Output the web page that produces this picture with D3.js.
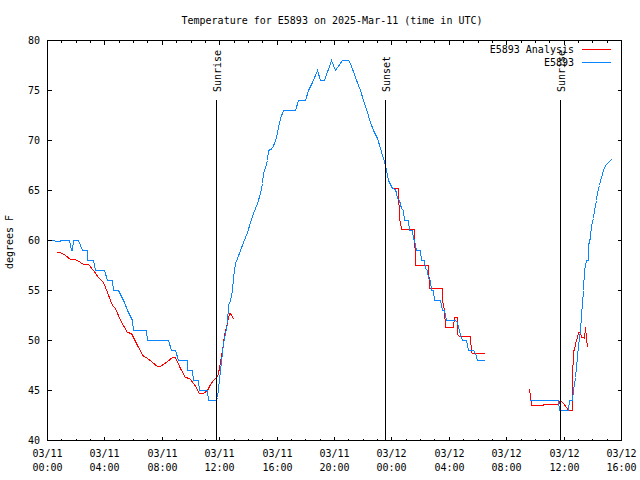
<!DOCTYPE html>
<html><head><meta charset="utf-8">
<script src="https://cdn.jsdelivr.net/npm/d3@7"></script>
<style>
body{margin:0;background:#fff;}
svg text{font-family:"DejaVu Sans Mono","Liberation Mono",monospace;font-size:10px;fill:#000;}
</style></head><body>
<svg id="c" width="640" height="480"></svg>
<script>
// ---- data (hours since 2025-03-11 00:00 UTC, degrees F); null = gap ----
const stationHours = [0,0.5,0.56,0.85,0.95,1.56,1.64,1.72,1.83,2.18,2.42,2.76,2.81,3.23,3.34,4.0,4.16,4.51,4.62,4.97,5.2,5.35,5.55,5.9,5.97,6.9,6.99,8.46,8.62,8.92,9.15,9.73,9.78,10.08,10.2,10.54,10.61,11.13,11.24,11.78,11.83,12.06,12.29,12.52,12.63,12.75,12.87,12.98,13.1,13.22,13.45,13.68,13.92,14.15,14.38,14.61,14.84,14.96,15.07,15.19,15.31,15.42,15.66,15.89,16.01,16.12,16.24,16.43,17.28,17.51,17.98,18.21,18.45,18.79,19.02,19.3,19.77,20.07,20.54,21.0,21.11,21.46,21.81,22.04,22.28,22.51,22.74,22.98,23.21,23.44,23.55,23.62,23.78,24.02,24.25,24.32,24.37,24.55,24.65,24.79,24.88,25.18,25.25,25.42,25.48,25.6,25.69,25.99,26.06,26.27,26.34,26.46,26.57,26.69,26.76,26.92,26.99,27.39,27.5,27.69,27.8,28.43,28.6,28.78,28.9,29.2,29.36,29.71,29.83,29.94,30.45,31.5,33.61,35.63,35.7,36.33,36.4,36.61,36.68,36.79,36.91,37.02,37.14,37.21,37.3,37.37,37.44,37.54,37.68,37.72,37.84,37.91,38.03,38.12,38.24,38.35,38.47,38.59,38.72,38.89,39.11,39.28];
const stationTemps = [60,60,59.9,59.9,60,60,59,59,60,60,59,59,58,58,57,57,56,56,55,55,54.2,53.8,53,52,51,51,50,50,49,49,48,48,47,47,46,46,45,45,44,44,44.3,47,49.7,51.7,53.5,54,55,56.3,57.7,58.2,59,59.8,60.8,61.8,62.7,63.7,64.7,65.7,66.7,67.3,68,69,69.2,70,70.7,71.3,72.2,73,73,74,74,75,75.8,77,76,76,78,77,78,78,77.7,76.3,75,74,72.8,71.8,71,70.2,69.2,68.2,67.5,67,66,65.2,65.1,64.7,64.2,64,63.2,63,62,62,61,61,60.2,60,59,59,58,58,57.2,57,56.2,56,55,55,54,54,53,53,52,52,51.8,50.5,50,50,49,49,48.7,48,48,null,44,44,43,43,44,44,45,46.3,48.3,49.5,51,52.5,53.7,55,57,58,58,59.5,60.3,61.5,62.2,63,64,64.8,65.5,66.3,67,67.5,67.8,68.1];

const analysisHours = [0.63,0.91,1.25,1.6,1.95,2.3,2.53,2.88,3.23,3.57,3.88,4.16,4.51,4.74,5.09,5.6,5.83,6.25,6.67,6.9,7.3,7.64,7.87,8.34,8.69,8.92,9.27,9.62,9.92,10.24,10.61,10.89,11.13,11.36,11.59,11.83,11.94,12.17,12.33,12.52,12.68,12.82,12.94,18,24.09,24.48,24.55,24.6,24.67,25.6,25.62,26.57,26.6,27.5,27.52,27.65,27.73,28.3,28.36,28.55,28.6,28.68,29.48,29.55,29.65,30.45,32,33.61,33.66,33.73,34.54,34.59,35.63,35.75,35.98,36.17,36.33,36.61,36.62,36.68,36.75,36.82,36.91,37.02,37.14,37.21,37.37,37.44,37.49,37.54,37.61];
const analysisTemps = [58.8,58.8,58.5,58.1,58.1,57.8,57.6,57.6,57,56.3,55.8,54.8,53.5,53.2,52,50.8,50.7,49.5,48.4,48.3,47.8,47.4,47.4,47.9,48.3,48.3,47.2,46.3,46.2,45.6,44.7,44.7,45,45.6,46,46.4,46.7,49,50.5,51.8,52.7,52.6,52.1,null,65.2,65.2,62,61.9,61.1,61.1,57.5,57.5,55.2,55.2,54,53,51.3,51.3,52.3,52.3,50.6,50.4,50.4,48.8,48.7,48.7,null,45.07,44.5,43.5,43.5,43.6,43.6,44,43.7,43.3,43,43,46,49,49,49.7,50.3,50.8,50.8,50.3,50.3,50.2,51.3,50.3,49.3];

const sunEventHours = [11.8, 23.58, 35.77];
const sunEventLabels = ["Sunrise", "Sunset", "Sunrise"];
const yTicks = [40,45,50,55,60,65,70,75,80];
const seriesNames = ["E5893 Analysis", "E5893"];
const seriesColors = ["#ff0000", "#0a84ff"];
const titleText = "Temperature for E5893 on 2025-Mar-11 (time in UTC)";
const yLabel = "degrees F";

// ---- layout ----
const L = 47, R = 621, T = 40, B = 440;
const t0 = Date.UTC(2025, 2, 11, 0, 0);
const toDate = h => new Date(t0 + h * 3600e3);

const svg = d3.select("#c");
const x = d3.scaleUtc().domain([toDate(0), toDate(40)]).range([L, R]);
const y = d3.scaleLinear().domain([40, 80]).range([B, T]);

const g = svg.append("g").attr("transform", "translate(0.5,0.5)");

// data lines (analysis first, station on top)
function drawSeries(hours, temps, color) {
  const pts = hours.map((h, i) => ({t: toDate(h), v: temps[i]}));
  const line = d3.line().defined(d => d.v !== null).x(d => Math.round(x(d.t))).y(d => Math.round(y(d.v)));
  g.append("path").datum(pts).attr("d", line).attr("fill", "none")
    .attr("stroke", color).attr("stroke-width", 1).attr("shape-rendering", "crispEdges");
}
drawSeries(analysisHours, analysisTemps, seriesColors[0]);
drawSeries(stationHours, stationTemps, seriesColors[1]);

// sun event lines
sunEventHours.forEach((h, i) => {
  const xx = Math.round(x(toDate(h)));
  g.append("line").attr("x1", xx).attr("x2", xx).attr("y1", 99).attr("y2", B)
    .attr("stroke", "#000").attr("shape-rendering", "crispEdges");
  svg.append("text").attr("transform", `translate(${xx + 5},92) rotate(-90)`)
    .attr("text-anchor", "start").text(sunEventLabels[i]);
});

// frame
g.append("rect").attr("x", L).attr("y", T).attr("width", R - L).attr("height", B - T)
  .attr("fill", "none").attr("stroke", "#000").attr("shape-rendering", "crispEdges");

// x axis ticks
const majorX = x.ticks(d3.utcHour.every(4));
const minorX = x.ticks(d3.utcHour.every(1));
const axisG = g.append("g").attr("stroke", "#000").attr("shape-rendering", "crispEdges");
minorX.forEach(d => {
  const xx = Math.round(x(d));
  const len = majorX.some(m => +m === +d) ? 4 : 2;
  axisG.append("line").attr("x1", xx).attr("x2", xx).attr("y1", B).attr("y2", B - len);
  axisG.append("line").attr("x1", xx).attr("x2", xx).attr("y1", T).attr("y2", T + len);
});
const fmtD = d3.utcFormat("%m/%d"), fmtH = d3.utcFormat("%H:%M");
majorX.forEach(d => {
  const xx = Math.round(x(d)) + 0.5;
  const t = svg.append("text").attr("text-anchor", "middle");
  t.append("tspan").attr("x", xx).attr("y", 457).text(fmtD(d));
  t.append("tspan").attr("x", xx).attr("y", 471).text(fmtH(d));
});

// y axis ticks
yTicks.forEach(v => {
  const yy = Math.round(y(v));
  axisG.append("line").attr("x1", L).attr("x2", L + 4).attr("y1", yy).attr("y2", yy);
  axisG.append("line").attr("x1", R).attr("x2", R - 4).attr("y1", yy).attr("y2", yy);
  svg.append("text").attr("x", 40).attr("y", yy + 4).attr("text-anchor", "end").text(v);
});

// title
svg.append("text").attr("x", 332).attr("y", 24).attr("text-anchor", "middle").text(titleText);
// y label
svg.append("text").attr("transform", "translate(13,242) rotate(-90)").attr("text-anchor", "middle").text(yLabel);

// legend
seriesNames.forEach((n, i) => {
  const yy = 49 + i * 13;
  svg.append("text").attr("x", 574).attr("y", yy + 4).attr("text-anchor", "end").text(n);
  g.append("line").attr("x1", 581).attr("x2", 610).attr("y1", yy).attr("y2", yy)
    .attr("stroke", seriesColors[i]).attr("shape-rendering", "crispEdges");
});
</script></body></html>
